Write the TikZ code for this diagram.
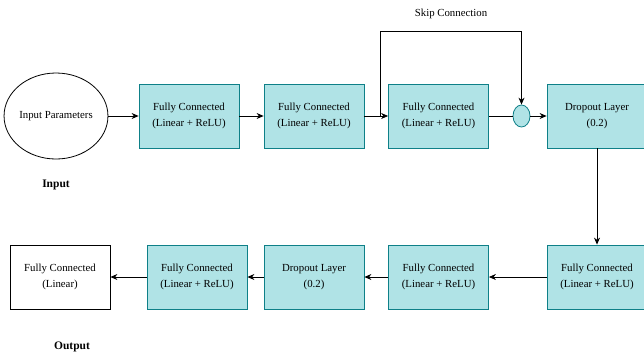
\documentclass[tikz,border=0pt]{standalone}
\usepackage{fontspec}
\setmainfont{Liberation Serif}
\usetikzlibrary{arrows.meta,shapes.geometric}
\definecolor{tealfill}{HTML}{B0E3E6}
\definecolor{tealline}{HTML}{0E8088}
\begin{document}
\begin{tikzpicture}[x=1pt,y=-1pt,
  layer/.style={draw=tealline,fill=tealfill,line width=0.8pt,minimum width=100pt,minimum height=64pt,inner sep=0pt,align=center,font=\fontsize{10.8}{16.5}\selectfont},
  plainbox/.style={draw=black,fill=white,line width=0.8pt,minimum width=100pt,minimum height=64pt,inner sep=0pt,align=center,font=\fontsize{10.8}{16.5}\selectfont},
  conn/.style={line width=0.8pt,-{Stealth[length=7pt,width=6pt]}},
  lbl/.style={font=\fontsize{11.5}{13}\selectfont\bfseries}]
\useasboundingbox (0,0) rectangle (644,357);
\clip (0,0) rectangle (644,357);
\fill[white] (0,0) rectangle (644,357);
% top row
\node[ellipse,draw=black,line width=0.8pt,minimum width=100pt,minimum height=86pt,inner sep=0pt,font=\fontsize{10.8}{13}\selectfont] (inp) at (56,116) {Input Parameters};
\node[layer] (fc1) at (189,116) {Fully Connected\\(Linear + ReLU)};
\node[layer] (fc2) at (314,116) {Fully Connected\\(Linear + ReLU)};
\node[layer] (fc3) at (438.5,116) {Fully Connected\\(Linear + ReLU)};
\node[ellipse,draw=tealline,fill=tealfill,line width=0.8pt,minimum width=17pt,minimum height=22pt,inner sep=0pt] (add) at (521.5,116) {};
\node[layer] (do1) at (597,116) {Dropout Layer\\(0.2)};
% bottom row
\node[layer] (fc4) at (597,277) {Fully Connected\\(Linear + ReLU)};
\node[layer] (fc5) at (438.5,277) {Fully Connected\\(Linear + ReLU)};
\node[layer] (do2) at (314,277) {Dropout Layer\\(0.2)};
\node[layer] (fc6) at (197,277) {Fully Connected\\(Linear + ReLU)};
\node[plainbox] (out) at (60,277) {Fully Connected\\(Linear)};
% labels
\node[lbl] (inlbl) at (56,185) {Input};
\node[lbl] (outlbl) at (72,347) {Output};
\node[font=\fontsize{10.8}{13}\selectfont] (skiplbl) at (451,14) {Skip Connection};
% connectors
\draw[conn] (inp) -- (fc1);
\draw[conn] (fc1) -- (fc2);
\draw[conn] (fc2) -- (fc3);
\coordinate (skipstart) at (380,116);
\draw[line width=0.8pt] (skipstart) -- (380,31) -- (521.5,31) coordinate (skipcorner);
\draw[conn] (skipcorner) -- (add);
\draw[line width=0.8pt] (fc3) -- (add);
\draw[conn] (add) -- (do1);
\draw[conn] (do1) -- (fc4);
\draw[conn] (fc4) -- (fc5);
\draw[conn] (fc5) -- (do2);
\draw[conn] (do2) -- (fc6);
\draw[conn] (fc6) -- (out);
\end{tikzpicture}
\end{document}
